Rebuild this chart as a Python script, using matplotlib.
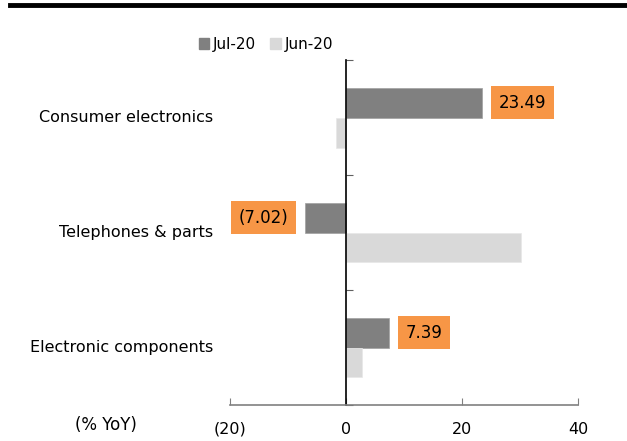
import matplotlib.pyplot as plt
import matplotlib.transforms as mtransforms
import numpy as np
from matplotlib.patches import Patch

# Данные: рост экспорта электроники, % г/г
categories = ['Consumer electronics', 'Telephones & parts', 'Electronic components']
jul_20 = [23.49, -7.02, 7.39]
jun_20 = [-1.7, 30.2, 2.8]
x_ticks = [-20, 0, 20, 40]
x_tick_labels = ['(20)', '0', '20', '40']

dark = '#808080'
light = '#d9d9d9'
orange = '#f79646'

plt.rcParams['font.family'] = ['DejaVu Sans']

fig = plt.figure(figsize=(6.27, 4.41), dpi=100)
ax = fig.add_axes([0.3668, 0.0816, 0.555, 0.782])

n = len(categories)
# категории сверху вниз
pos = np.arange(n)[::-1].astype(float)
h = 0.26

ax.barh(pos + h / 2, jul_20, height=h, color=dark, edgecolor='#a0a0a0', linewidth=0.5)
ax.barh(pos - h / 2, jun_20, height=h, color=light, edgecolor='#e8e8e8', linewidth=0.5)

# Подписи значений июля в оранжевых плашках
for y, v in zip(pos, jul_20):
    txt = f'{v:.2f}' if v >= 0 else f'({abs(v):.2f})'
    off = 12 if v >= 0 else -12
    ax.annotate(txt, xy=(v, y + h / 2), xytext=(off, 0), textcoords='offset points',
                ha='left' if v >= 0 else 'right', va='center', fontsize=12,
                bbox=dict(boxstyle='square,pad=0.45', fc=orange, ec='none'))

ax.set_xlim(-20, 40)
ax.set_ylim(-0.5, n - 0.5)

ax.set_xticks(x_ticks)
ax.set_xticklabels(x_tick_labels, fontsize=11.5)
ax.tick_params(axis='x', direction='in', length=5, color='#808080', pad=12)

# Ось Y проходит через ноль, засечки на границах категорий
ax.spines['left'].set_position(('data', 0))
ax.spines['left'].set_color('black')
ax.spines['left'].set_linewidth(1.2)
ax.spines['right'].set_visible(False)
ax.spines['top'].set_visible(False)
ax.spines['bottom'].set_color('#808080')
ax.spines['bottom'].set_linewidth(1.2)

ax.set_yticks(np.arange(n + 1) - 0.5)
ax.set_yticklabels([])
ax.tick_params(axis='y', direction='in', length=5, color='#606060')

# Названия категорий слева, выровнены по правому краю
label_tr = mtransforms.blended_transform_factory(fig.transFigure, ax.transData)
for y, name in zip(pos, categories):
    fig.text(213 / 627, y, name, fontsize=11.5, ha='right', va='center', transform=label_tr)

fig.text(75 / 627, 1 - 425 / 441, '(% YoY)', fontsize=12, ha='left', va='center')

# Толстая линия сверху
fig.add_artist(plt.Line2D([10 / 627, 1], [1 - 5 / 441, 1 - 5 / 441], color='black', linewidth=3.5))

handles = [Patch(color=dark, label='Jul-20'), Patch(color=light, label='Jun-20')]
fig.legend(handles=handles, loc='center', bbox_to_anchor=(0.424, 1 - 44 / 441), ncol=2,
           frameon=False, fontsize=11, handlelength=0.7, handleheight=0.7,
           handletextpad=0.25, columnspacing=0.9)

plt.savefig('out.png', dpi=100)
